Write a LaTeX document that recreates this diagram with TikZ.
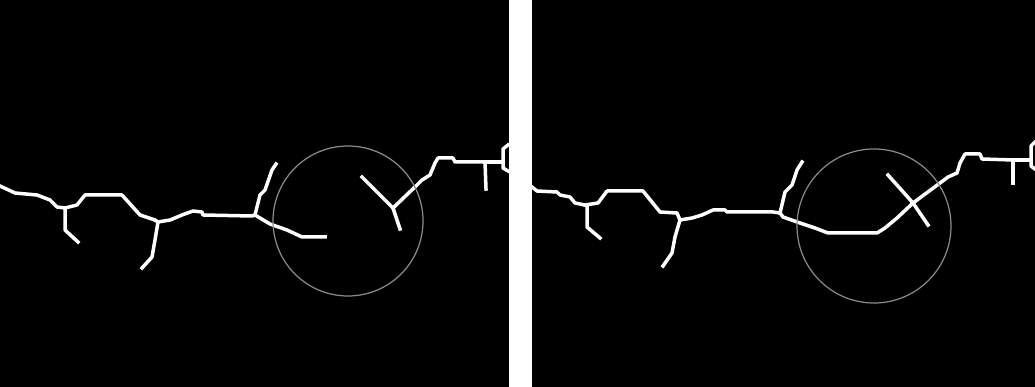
\documentclass[tikz,border=0pt]{standalone}

\begin{document}
\begin{tikzpicture}[
    x=1pt, y=-1pt,
    % Style for the skeleton lines (white strokes)
    skel/.style={white, line width=3.5pt, line join=round, line cap=rect},
    % Style for the gray search circle
    ring/.style={draw=black!45, line width=1.2pt}
]

% white page with the two black panels
\fill[white] (0,0) rectangle (1035,387);
\useasboundingbox (0,0) rectangle (1035,387);
\fill[black] (0,0) rectangle (509,387);
\fill[black] (532,0) rectangle (1035,387);

% ==========================
% Left panel: broken skeleton
% ==========================
\begin{scope}
    \clip (0,0) rectangle (509,387);
    \coordinate (l1) at (65,208);
    \coordinate (l2) at (158,222);
    \coordinate (l3) at (255,215);
    \coordinate (l4) at (393,208);
    \coordinate (l5) at (485,162);

    \draw[skel] (0,186) -- (15,193) -- (37,195) -- (50,200) -- (57,207) -- (l1);
    \draw[skel] (l1) -- (65,230) -- (78,242);
    \draw[skel] (l1) -- (77,205) -- (85,195) -- (122,195) -- (140,215) -- (155,220) -- (l2);
    \draw[skel] (l2) -- (155,240) -- (152,257) -- (142,268);
    \draw[skel] (l2) -- (170,220) -- (182,215) -- (193,211) -- (202,212) -- (203,215) -- (252,216) -- (l3);
    \draw[skel] (l3) -- (260,195) -- (265,190) -- (272,170) -- (276,164);
    \draw[skel] (l3) -- (270,224) -- (287,230) -- (302,237) -- (325,237);

    % loose end inside the circle
    \draw[skel] (362,177) -- (l4) -- (400,229);
    \draw[skel] (l4) -- (417,185) -- (422,180) -- (430,175) -- (435,163) -- (438,158) -- (453,158) -- (455,162) -- (l5);
    \draw[skel] (l5) -- (486,189);
    \draw[skel] (l5) -- (502,162);
    \draw[skel] (508,145) -- (503,149) -- (503,168) -- (508,171);

    \draw[ring] (348,221) circle (75);
\end{scope}

% ==========================
% Right panel: joined skeleton
% ==========================
\begin{scope}
    \clip (532,0) rectangle (1035,387);
    \coordinate (r1) at (585,205);
    \coordinate (r2) at (680,220);
    \coordinate (r3) at (780,213);
    \coordinate (r4) at (913,203);
    \coordinate (r5) at (1013,160);

    \draw[skel] (532,187) -- (537,191) -- (557,192) -- (560,195) -- (570,197) -- (575,203) -- (r1);
    \draw[skel] (r1) -- (587,205) -- (587,227) -- (600,238);
    \draw[skel] (r1) -- (598,203) -- (607,191) -- (643,191) -- (660,212) -- (677,213) -- (r2);
    \draw[skel] (r2) -- (675,237) -- (672,253) -- (663,266);
    \draw[skel] (r2) -- (692,218) -- (702,215) -- (713,210) -- (725,210) -- (727,212) -- (773,212) -- (r3);
    \draw[skel] (r3) -- (785,192) -- (792,185) -- (797,170) -- (802,162);

    % bridged gap through the circle
    \draw[skel] (r3) -- (783,217) -- (800,223) -- (815,228) -- (828,233) -- (877,233) -- (885,228) -- (897,218) -- (r4);
    \draw[skel] (888,175) -- (r4) -- (928,225);
    \draw[skel] (r4) -- (940,183) -- (948,177) -- (957,173) -- (960,163) -- (965,154) -- (980,154) -- (982,159) -- (r5);
    \draw[skel] (r5) -- (1013,183);
    \draw[skel] (r5) -- (1030,160);
    \draw[skel] (1035,142) -- (1031,146) -- (1031,166) -- (1035,169);

    \draw[ring] (874,226) circle (77);
\end{scope}

\end{tikzpicture}
\end{document}
